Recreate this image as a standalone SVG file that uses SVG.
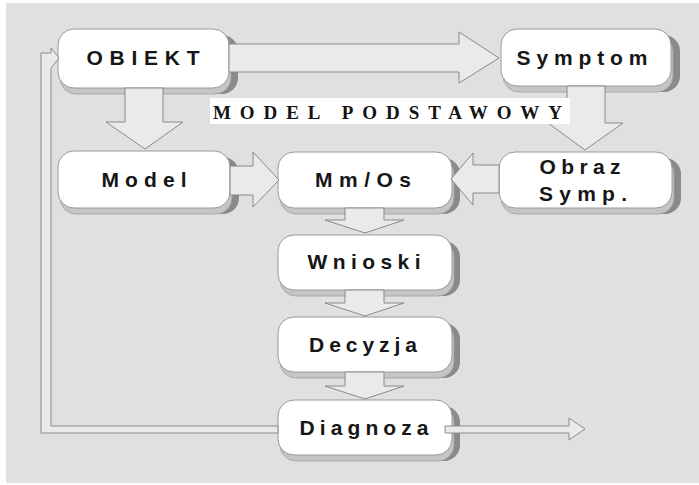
<svg xmlns="http://www.w3.org/2000/svg" width="699" height="485" viewBox="0 0 699 485">
  <style>
    .face { fill: #ffffff; stroke: #9a9a9c; stroke-width: 1; }
    .side { fill: #8a8a8c; }
    .base { fill: #c5c5c7; stroke: #a0a0a2; stroke-width: 0.8; }
    .lbl { font-family: "Liberation Sans", Arial, sans-serif; font-weight: bold; font-size: 21px; fill: #161616; text-anchor: middle; }
    .arrow { fill: #e9eaec; stroke: #8a8a8c; stroke-width: 1; stroke-linejoin: miter; }
    .title { font-family: "Liberation Serif", "Times New Roman", serif; font-weight: bold; font-size: 19px; fill: #141414; }
  </style>

  <!-- page background -->
  <rect x="0" y="0" width="699" height="485" fill="#ffffff"/>
  <rect x="6" y="3" width="693" height="480" fill="#dfe0e2"/>

  <!-- nodes: extruded rounded boxes (dark right side, light bottom, white face) -->
  <g id="node-obiekt">
    <rect class="side" x="67" y="35" width="171" height="59" rx="16"/>
    <rect class="base" x="60" y="35" width="171" height="59" rx="16"/>
    <rect class="face" x="58" y="29" width="171" height="59" rx="16"/>
    <text class="lbl" x="143" y="65" textLength="113" lengthAdjust="spacing">OBIEKT</text>
  </g>
  <g id="node-symptom">
    <rect class="side" x="510" y="35" width="170" height="57" rx="16"/>
    <rect class="base" x="503" y="35" width="170" height="57" rx="16"/>
    <rect class="face" x="501" y="29" width="170" height="57" rx="16"/>
    <text class="lbl" x="582" y="65" textLength="131" lengthAdjust="spacing">Symptom</text>
  </g>
  <g id="node-model">
    <rect class="side" x="67" y="157" width="172" height="57" rx="16"/>
    <rect class="base" x="60" y="157" width="172" height="57" rx="16"/>
    <rect class="face" x="58" y="151" width="172" height="57" rx="16"/>
    <text class="lbl" x="144" y="187" textLength="85" lengthAdjust="spacing">Model</text>
  </g>
  <g id="node-mmos">
    <rect class="side" x="286" y="158" width="174" height="56" rx="16"/>
    <rect class="base" x="280" y="158" width="174" height="56" rx="16"/>
    <rect class="face" x="278" y="152" width="174" height="56" rx="16"/>
    <text class="lbl" x="363" y="187" textLength="96" lengthAdjust="spacing">Mm/Os</text>
  </g>
  <g id="node-obraz">
    <rect class="side" x="508" y="158" width="173" height="56" rx="16"/>
    <rect class="base" x="501" y="158" width="173" height="56" rx="16"/>
    <rect class="face" x="499" y="152" width="173" height="56" rx="16"/>
    <text class="lbl" x="580" y="174" textLength="81" lengthAdjust="spacing">Obraz</text>
    <text class="lbl" x="583" y="201" textLength="88" lengthAdjust="spacing">Symp.</text>
  </g>
  <g id="node-wnioski">
    <rect class="side" x="286" y="241" width="174" height="55" rx="16"/>
    <rect class="base" x="280" y="241" width="174" height="55" rx="16"/>
    <rect class="face" x="278" y="235" width="174" height="55" rx="16"/>
    <text class="lbl" x="364" y="269" textLength="113" lengthAdjust="spacing">Wnioski</text>
  </g>
  <g id="node-decyzja">
    <rect class="side" x="286" y="323" width="174" height="55" rx="16"/>
    <rect class="base" x="280" y="323" width="174" height="55" rx="16"/>
    <rect class="face" x="278" y="317" width="174" height="55" rx="16"/>
    <text class="lbl" x="363" y="352" textLength="108" lengthAdjust="spacing">Decyzja</text>
  </g>
  <g id="node-diagnoza">
    <rect class="side" x="286" y="406" width="174" height="55" rx="16"/>
    <rect class="base" x="280" y="406" width="174" height="55" rx="16"/>
    <rect class="face" x="278" y="400" width="174" height="55" rx="16"/>
    <text class="lbl" x="364" y="435" textLength="129" lengthAdjust="spacing">Diagnoza</text>
  </g>

  <!-- connectors: hollow block arrows -->
  <g id="connectors">
    <!-- OBIEKT -> Symptom -->
    <polygon class="arrow" points="229,44 459,44 459,32 499,58 459,83 459,72 229,72"/>
    <!-- OBIEKT -> Model -->
    <polygon class="arrow" points="125,88 163,88 163,122 183,122 145,149 106,122 125,122"/>
    <!-- Symptom -> Obraz Symp. -->
    <polygon class="arrow" points="567,86 605,86 605,123 623,123 585,150 548,123 567,123"/>
    <!-- Model -> Mm/Os -->
    <polygon class="arrow" points="230,166 253,166 253,152 279,180 253,207 253,195 230,195"/>
    <!-- Obraz Symp. -> Mm/Os -->
    <polygon class="arrow" points="499,165 473,165 473,153 451,179 473,205 473,193 499,193"/>
    <!-- Mm/Os -> Wnioski -->
    <polygon class="arrow" points="345,208 384,208 384,220 404,220 365,233 325,220 345,220"/>
    <!-- Wnioski -> Decyzja -->
    <polygon class="arrow" points="345,290 384,290 384,303 404,303 365,316 325,303 345,303"/>
    <!-- Decyzja -> Diagnoza -->
    <polygon class="arrow" points="345,372 384,372 384,386 404,386 365,399 325,386 345,386"/>
    <!-- Diagnoza -> out -->
    <polygon class="arrow" points="445,426 569,426 569,418 585,429 569,440 569,433 445,433"/>
    <!-- feedback loop Diagnoza -> OBIEKT -->
    <polygon class="arrow" points="278,426 51,426 51,68 59,58 51,48 51,53 41,53 41,433 278,433"/>
  </g>

  <!-- section caption -->
  <g id="caption">
    <rect x="210" y="98" width="360" height="26" fill="#ffffff"/>
    <text class="title" x="213" y="119" textLength="349" lengthAdjust="spacing">MODEL PODSTAWOWY</text>
  </g>
</svg>
